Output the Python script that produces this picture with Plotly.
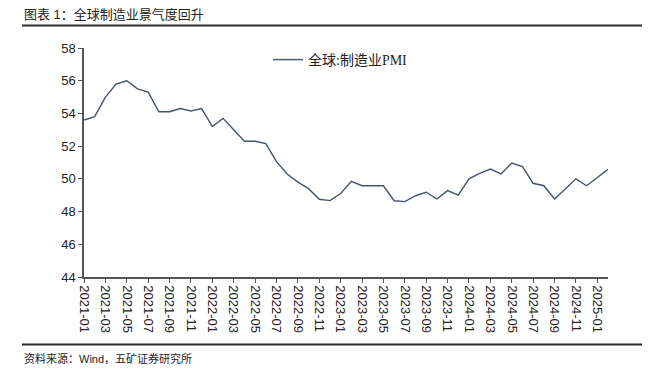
import plotly.graph_objects as go

months = ["2021-01","2021-02","2021-03","2021-04","2021-05","2021-06","2021-07","2021-08","2021-09","2021-10","2021-11","2021-12",
          "2022-01","2022-02","2022-03","2022-04","2022-05","2022-06","2022-07","2022-08","2022-09","2022-10","2022-11","2022-12",
          "2023-01","2023-02","2023-03","2023-04","2023-05","2023-06","2023-07","2023-08","2023-09","2023-10","2023-11","2023-12",
          "2024-01","2024-02","2024-03","2024-04","2024-05","2024-06","2024-07","2024-08","2024-09","2024-10","2024-11","2024-12",
          "2025-01","2025-02"]
pmi = [53.6, 53.8, 55.0, 55.8, 56.0, 55.5, 55.3, 54.1, 54.1, 54.3, 54.15, 54.3,
       53.2, 53.7, 53.0, 52.3, 52.3, 52.15, 51.05, 50.3, 49.8, 49.4, 48.75, 48.67,
       49.1, 49.85, 49.58, 49.58, 49.58, 48.66, 48.61, 48.97, 49.18, 48.77, 49.28, 49.0,
       50.0, 50.34, 50.6, 50.3, 50.97, 50.75, 49.73, 49.58, 48.77, 49.38, 50.0, 49.58,
       50.07, 50.58]
series_name = "全球:制造业PMI"
title_text = "图表 1：全球制造业景气度回升"
source_text = "资料来源：Wind，五矿证券研究所"
y_ticks = [44, 46, 48, 50, 52, 54, 56, 58]

idx = list(range(len(months)))
tick_idx = idx[::2]
tick_lbl = months[::2]

# the page body has an 8px margin; the figure is sized so it fits the 650x376 window
OFF = 8
W, H = 650 - OFF, 376 - OFF
# plot area in window pixels: x 84..608, y 48..277
L = 84 - OFF
T = 48 - OFF
R = W - (608 - OFF)
B = H - (277 - OFF)
pw, ph = W - L - R, H - T - B

def px_x(p):
    return (p - OFF - L) / pw

def px_y(p):
    return (H - B - (p - OFF)) / ph

fig = go.Figure()
fig.add_trace(go.Scatter(x=idx, y=pmi, mode="lines", name=series_name,
                         line=dict(color="#44546A", width=1.4)))

fig.update_layout(
    width=W, height=H,
    margin=dict(l=L, r=R, t=T, b=B),
    paper_bgcolor="white", plot_bgcolor="white",
    showlegend=True,
    legend=dict(x=px_x(268), y=px_y(44), xanchor="left", yanchor="top",
                bgcolor="rgba(0,0,0,0)",
                font=dict(family="Liberation Serif, Noto Sans CJK SC", size=14, color="#222")),
    font=dict(family="Liberation Sans, Arial, sans-serif", size=13, color="#222"),
)
fig.update_xaxes(range=[0, len(months) - 1], tickmode="array", tickvals=tick_idx, ticktext=tick_lbl,
                 tickangle=90, ticks="outside", ticklen=4, tickcolor="#555",
                 showline=True, linecolor="#555", linewidth=1.5, showgrid=False, zeroline=False,
                 tickfont=dict(size=13, color="#222"))
fig.update_yaxes(range=[44, 58], tickmode="array", tickvals=y_ticks,
                 ticks="outside", ticklen=4, tickcolor="#555",
                 showline=True, linecolor="#555", linewidth=1.5, showgrid=False, zeroline=False,
                 tickfont=dict(size=13, color="#222"))

# rule lines under the title and above the source note
for yy in (25.5, 344.5):
    fig.add_shape(type="line", xref="paper", yref="paper",
                  x0=px_x(22), x1=px_x(650), y0=px_y(yy), y1=px_y(yy),
                  line=dict(color="#2b2b2b", width=2))

fig.add_annotation(text=title_text, xref="paper", yref="paper", x=px_x(22), y=px_y(14),
                   xanchor="left", yanchor="middle", showarrow=False,
                   font=dict(family="Liberation Sans, Noto Sans CJK SC", size=13, color="#222"))
fig.add_annotation(text=source_text, xref="paper", yref="paper", x=px_x(22), y=px_y(358),
                   xanchor="left", yanchor="middle", showarrow=False,
                   font=dict(family="Liberation Sans, Noto Sans CJK SC", size=11, color="#222"))

fig.write_html("out.html", config={"displayModeBar": False})
